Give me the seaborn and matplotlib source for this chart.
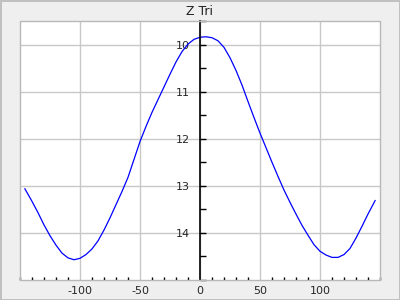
import numpy as np
import pandas as pd
import matplotlib
matplotlib.use("Agg")
import matplotlib.pyplot as plt
import seaborn as sns
from matplotlib.ticker import MultipleLocator
from matplotlib.patches import Rectangle

title = "Z Tri"
x_vals = [-146, -140, -135, -130, -125, -120, -115, -110, -105, -100, -95, -90, -85,
          -80, -75, -70, -65, -60, -55, -50, -45, -40, -35, -30, -25, -20, -15, -10,
          -5, 0, 5, 10, 15, 20, 25, 30, 35, 40, 45, 50, 55, 60, 65, 70, 75, 80, 85,
          90, 95, 100, 105, 110, 115, 120, 125, 130, 135, 140, 146]
z_vals = [13.06, 13.33, 13.57, 13.83, 14.06, 14.26, 14.43, 14.53, 14.57, 14.54, 14.46,
          14.34, 14.17, 13.94, 13.68, 13.40, 13.12, 12.82, 12.44, 12.06, 11.74, 11.44,
          11.17, 10.90, 10.63, 10.37, 10.15, 9.99, 9.89, 9.845, 9.835, 9.855, 9.92, 10.06,
          10.28, 10.55, 10.86, 11.21, 11.55, 11.88, 12.19, 12.50, 12.80, 13.09, 13.35,
          13.60, 13.84, 14.05, 14.25, 14.39, 14.47, 14.52, 14.52, 14.46, 14.33, 14.11,
          13.86, 13.60, 13.31]
x_ticks = [-100, -50, 0, 50, 100]
y_ticks = [10, 11, 12, 13, 14]

sns.set_style("white")
plt.rcParams['font.family'] = ['DejaVu Sans']

df = pd.DataFrame({"x": x_vals, "z": z_vals})

fig = plt.figure(figsize=(4, 3), dpi=100, facecolor="#efefef")
fig.patch.set_edgecolor("#c0c0c0")
fig.patch.set_linewidth(2)
ax = fig.add_axes([0.05, 0.0667, 0.90, 0.8633])
ax.set_facecolor("white")

sns.lineplot(data=df, x="x", y="z", ax=ax, color="#0000ff", linewidth=0.9, zorder=3)

ax.set_xlim(-150, 150)
ax.set_ylim(15.0, 9.5)

ax.set_xticks(x_ticks)
ax.set_yticks(y_ticks)
ax.xaxis.set_minor_locator(MultipleLocator(10))
ax.yaxis.set_minor_locator(MultipleLocator(0.5))
ax.grid(True, which="major", color="#c8c8c8", linewidth=1.0, zorder=0)
ax.set_axisbelow(True)

for s in ["top", "right", "bottom"]:
    ax.spines[s].set_visible(False)
ax.spines["left"].set_position(("data", 0))
ax.spines["left"].set_color("black")
ax.spines["left"].set_linewidth(1.2)
ax.spines["left"].set_zorder(4)

ax.add_patch(Rectangle((0, 0), 1, 1, transform=ax.transAxes, fill=False,
                       edgecolor="#b8b8b8", linewidth=1.0, clip_on=False, zorder=5))

ax.tick_params(axis="y", which="both", direction="in", length=4.5, width=1,
               color="black", labelsize=8, pad=7, left=True, right=False)
ax.tick_params(axis="x", which="major", direction="in", length=0, labelsize=8, pad=4)
ax.tick_params(axis="x", which="minor", direction="in", length=2.5, width=1,
               color="black", bottom=True)
ax.set_xticklabels([str(v) for v in x_ticks])
ax.set_yticklabels([str(v) for v in y_ticks])

ax.set_xlabel("")
ax.set_ylabel("")
ax.set_title(title, fontsize=9, pad=4, color="#222222")

fig.savefig("out.png", dpi=100, facecolor="#efefef", edgecolor="#c0c0c0")
